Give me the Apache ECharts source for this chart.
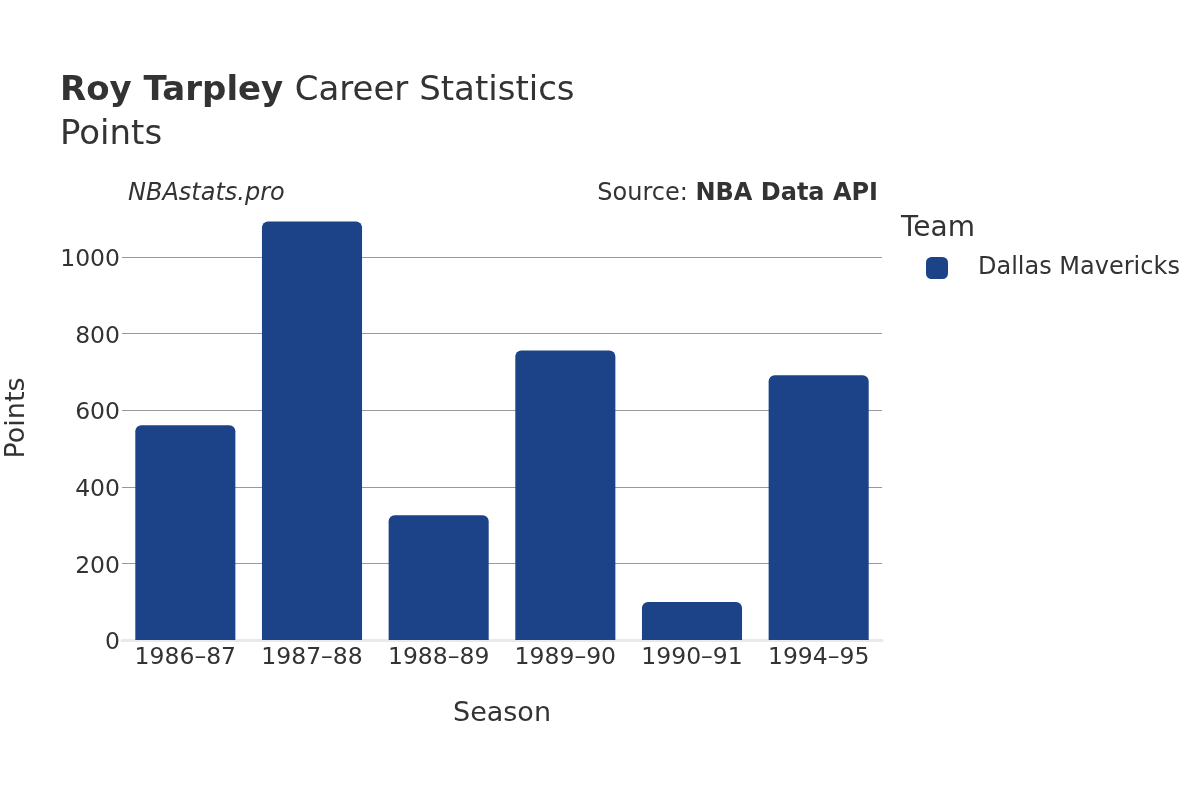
<!DOCTYPE html>
<html><head><meta charset="utf-8">
<script src="https://cdn.jsdelivr.net/npm/echarts@6/dist/echarts.min.js"></script>
<style>html,body{margin:0;padding:0;background:#fff}#c{width:1200px;height:800px}</style>
</head><body><div id="c"></div>
<script>
const seasons = ['1986–87','1987–88','1988–89','1989–90','1990–91','1994–95'];
const points = [561, 1093, 326, 756, 99, 691];
const yTicks = [0, 200, 400, 600, 800, 1000];
const teamName = 'Dallas Mavericks';
const barColor = '#1c4288';
const F = 'DejaVu Sans';
const C = '#333';

const chart = echarts.init(document.getElementById('c'));
chart.setOption({
  animation: false,
  textStyle: {fontFamily: F},
  title: [
    {text: '{b|Roy Tarpley}  {n|Career Statistics}', left: 55, top: 69,
     textStyle: {fontWeight: 'normal', rich: {b: {fontFamily: F, fontSize: 34, fontWeight: 'bold', color: C},
                        n: {fontFamily: F, fontSize: 34, fontWeight: 'normal', color: C}}}},
    {text: 'Points', left: 55, top: 113, textStyle: {fontFamily: F, fontSize: 34, fontWeight: 'normal', color: C}},
    {text: 'NBAstats.pro', left: 123, top: 177, textStyle: {fontFamily: F, fontSize: 24, fontStyle: 'italic', fontWeight: 'normal', color: C}},
    {text: '{n|Source: }{b|NBA Data API}', right: 317, top: 177,
     textStyle: {fontWeight: 'normal', rich: {n: {fontFamily: F, fontSize: 24, fontWeight: 'normal', color: C}, b: {fontFamily: F, fontSize: 24, fontWeight: 'bold', color: C}}}},
    {text: 'Team', left: 896, top: 210, textStyle: {fontFamily: F, fontSize: 28, fontWeight: 'normal', color: C}}
  ],
  graphic: [{
    type: 'text', x: 17, y: 418, rotation: Math.PI / 2,
    style: {text: 'Points', font: '27px "DejaVu Sans"', fill: C, textAlign: 'center', textVerticalAlign: 'middle'}
  }],
  legend: {
    left: 921, top: 251, orient: 'vertical', itemWidth: 22, itemHeight: 22, itemGap: 10,
    icon: 'roundRect',
    textStyle: {fontFamily: F, fontSize: 24, color: C, padding: [2, 0, 0, 25]},
    data: [teamName]
  },
  grid: {left: 122, right: 318, top: 257, bottom: 160, containLabel: false},
  xAxis: {
    type: 'category', data: seasons,
    name: 'Season', nameLocation: 'middle', nameGap: 60,
    nameTextStyle: {fontFamily: F, fontSize: 27, color: C},
    axisLine: {show: true, lineStyle: {color: '#e8e8ee', width: 3}},
    axisTick: {show: false},
    axisLabel: {fontFamily: F, fontSize: 23.5, color: C, margin: 6, interval: 0}
  },
  yAxis: {
    type: 'value', min: 0, max: 1000, interval: 200,
    axisLine: {show: false}, axisTick: {show: false},
    axisLabel: {fontFamily: F, fontSize: 23.5, color: C, margin: 2, lineHeight: 30, verticalAlign: 'top', padding: [-12, 0, 0, 0],
                formatter: v => yTicks.includes(v) ? String(v) : ''},
    splitLine: {lineStyle: {color: '#999', width: 1}}
  },
  series: [{
    name: teamName, type: 'bar', data: points, clip: false,
    barCategoryGap: '21%',
    itemStyle: {color: barColor, borderRadius: [6, 6, 0, 0]}
  }]
});
</script></body></html>
